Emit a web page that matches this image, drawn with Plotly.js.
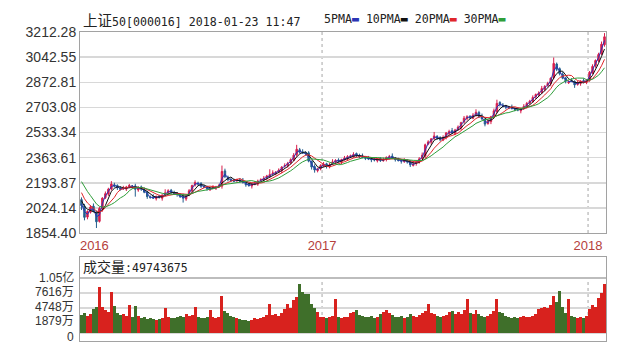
<!DOCTYPE html>
<html>
<head>
<meta charset="utf-8">
<script src="https://cdn.plot.ly/plotly-3.0.1.min.js"></script>
<style>
html,body{margin:0;padding:0;background:#fff;}
#chart{width:640px;height:361px;}
</style>
</head>
<body>
<div id="chart"></div>
<script>
// 上证50 (000016): price bars from early 2016 to 2018-01-23, with volume below.
const barOpen = [2080,2037,1962,1995,2036,1998,1933,2016,2094,2117,2152,2180,2176,2158,2153,2151,2169,2172,2172,2145,
2166,2148,2133,2096,2099,2087,2102,2090,2116,2123,2143,2126,2124,2112,2102,2085,2111,2138,2178,2191,
2189,2167,2167,2147,2156,2158,2168,2171,2274,2232,2217,2208,2211,2213,2208,2191,2184,2172,2187,2185,
2211,2213,2228,2236,2254,2257,2267,2275,2306,2308,2328,2346,2384,2417,2402,2398,2396,2338,2303,2276,
2289,2307,2322,2300,2321,2333,2348,2336,2354,2357,2372,2370,2391,2378,2373,2361,2364,2352,2352,2343,
2358,2343,2353,2361,2374,2359,2352,2343,2338,2343,2338,2311,2324,2332,2357,2375,2456,2468,2493,2506,
2499,2482,2502,2525,2546,2528,2553,2566,2604,2627,2642,2630,2656,2668,2643,2621,2594,2607,2642,2675,
2736,2718,2713,2701,2704,2692,2692,2680,2696,2708,2733,2741,2774,2787,2802,2825,2851,2863,2903,2996,
2964,2927,2902,2870,2883,2878,2858,2866,2884,2872,2887,2935,2986,3018,3063,3126];
const barHigh = [2095,2051,2007,2042,2054,2006,2031,2096,2135,2160,2205,2194,2183,2170,2173,2173,2186,2178,2187,2170,
2175,2162,2140,2108,2117,2108,2113,2116,2150,2150,2152,2140,2131,2124,2120,2113,2151,2181,2210,2201,
2198,2181,2174,2162,2178,2173,2186,2310,2289,2242,2226,2222,2222,2225,2226,2199,2195,2191,2205,2215,
2224,2239,2247,2285,2278,2273,2291,2306,2325,2335,2359,2394,2450,2429,2420,2406,2407,2344,2318,2295,
2319,2334,2329,2327,2353,2353,2359,2356,2375,2380,2384,2400,2398,2390,2391,2369,2375,2358,2367,2362,
2367,2364,2372,2382,2392,2367,2363,2349,2360,2353,2347,2334,2342,2367,2398,2458,2481,2496,2537,2516,
2508,2514,2537,2552,2564,2558,2581,2606,2645,2650,2651,2664,2690,2680,2661,2629,2621,2646,2695,2755,
2745,2732,2720,2713,2722,2700,2703,2696,2725,2740,2754,2784,2797,2812,2848,2853,2876,2906,3040,3006,
2973,2941,2909,2887,2901,2886,2881,2886,2899,2895,2949,2994,3027,3072,3148,3205];
const barLow = [2010,1940,1947,1986,1994,1888,1925,1999,2084,2105,2141,2163,2145,2141,2147,2138,2161,2153,2100,2133,
2139,2123,2085,2086,2084,2074,2087,2073,2106,2111,2119,2113,2100,2091,2060,2072,2103,2121,2168,2173,
2159,2158,2140,2138,2150,2145,2160,2154,2225,2203,2199,2198,2196,2196,2189,2167,2167,2155,2177,2173,
2200,2206,2213,2227,2248,2244,2259,2258,2296,2296,2317,2339,2369,2391,2389,2377,2332,2283,2262,2264,
2278,2300,2290,2291,2315,2320,2332,2319,2344,2345,2361,2363,2365,2361,2359,2347,2347,2333,2338,2331,
2334,2336,2338,2352,2356,2337,2337,2323,2328,2323,2300,2304,2309,2323,2351,2362,2448,2451,2483,2483,
2474,2475,2487,2516,2524,2515,2545,2549,2594,2615,2624,2623,2641,2631,2619,2575,2586,2590,2632,2663,
2709,2703,2690,2691,2689,2677,2677,2663,2686,2696,2722,2734,2759,2778,2796,2812,2843,2846,2893,2948,
2919,2893,2865,2861,2874,2835,2850,2849,2865,2860,2876,2928,2971,3009,3057,3113];
const barClose = [2040,1960,2000,2030,2000,1930,2020,2090,2120,2150,2185,2170,2160,2150,2155,2165,2175,2170,2150,2160,
2150,2130,2100,2095,2090,2100,2095,2110,2125,2140,2130,2120,2115,2100,2090,2105,2140,2175,2195,2185,
2170,2165,2155,2150,2160,2165,2175,2270,2235,2215,2210,2205,2215,2205,2195,2180,2175,2185,2190,2205,
2215,2225,2240,2250,2260,2265,2280,2300,2310,2325,2350,2380,2420,2400,2395,2390,2340,2300,2280,2285,
2310,2320,2305,2315,2335,2345,2340,2350,2360,2370,2375,2385,2380,2370,2365,2360,2355,2350,2348,2352,
2345,2350,2365,2370,2362,2350,2345,2340,2345,2335,2315,2320,2335,2355,2380,2450,2470,2490,2510,2495,
2485,2500,2530,2540,2530,2550,2570,2600,2630,2640,2635,2650,2670,2640,2625,2590,2610,2640,2680,2730,
2720,2710,2705,2700,2695,2690,2685,2690,2710,2730,2745,2770,2790,2800,2830,2845,2865,2900,3000,2960,
2930,2900,2880,2875,2880,2855,2870,2880,2875,2885,2940,2980,3020,3060,3130,3180];
// volume per bar, in 万
const volume = [3400,3800,3300,3600,4600,5000,8800,5000,4300,4000,7900,5200,3900,3500,3700,3300,5400,3000,5200,3200,
2900,3000,2700,2800,2600,2500,2700,2900,4800,3000,2800,2900,3100,3300,3000,3600,3200,3500,4900,3100,
2900,2800,3000,4400,3000,2900,3100,7000,4200,3800,3300,3000,2900,2600,2500,2400,2300,2500,2800,2700,
2900,3100,3400,5500,3500,3700,3300,3900,4600,5500,4700,6300,6800,9300,7800,7500,7400,5600,4800,4000,
3000,3100,2900,3000,3300,6500,3000,2900,3000,3100,3900,4000,4400,3500,3200,3000,3100,3200,2900,3000,
3600,4000,4400,3800,3500,3100,3000,3200,2900,3100,3600,3300,3000,3400,3900,4200,5500,3800,3600,3300,
3100,3200,3500,4000,4200,3600,4000,3700,4300,6500,3900,3600,4400,3700,3300,3000,3200,3700,4100,6500,
4000,3800,3200,3000,2900,3100,2900,3000,3300,3100,3000,3200,3600,4500,4700,5000,4800,5400,7000,6000,
8000,5000,3900,6500,3300,3000,2900,3000,2800,3200,4500,5300,5000,6600,7600,9300];
// closes before the first shown bar, used to seed the moving averages
const priorClose = [2360,2340,2330,2300,2250,2200,2150,2110,2080,2060];

const priceTicks = [1854.40,2024.14,2193.87,2363.61,2533.34,2703.08,2872.81,3042.55,3212.28];
const volumeTicks = [0,1879,4748,7616,10485];
const volumeTickText = ['0','1879万','4748万','7616万','1.05亿'];
const volumeLabelNudge = [-4, 2, 1.5, 1, 1];   // spreads the crowded volume labels evenly
const yearTicks = [4.3, 80.5, 169.5];
const yearText = ['2016','2017','2018'];
const maPeriods = [5,10,20,30];
const maColors = ['#2b35b5','#111111','#e0262a','#2f9e3a'];
const daysPerBar = 2.75;

const upColor = '#d81e4c', downColor = '#245f8e';
const volUp = '#d8221e', volDown = '#3f6f2a';

const n = barClose.length;
const idx = barClose.map((_, i) => i);
const allClose = priorClose.concat(barClose);

function movingAverage(win) {
  const out = [];
  for (let i = 0; i < n; i++) {
    const end = i + priorClose.length, start = end - win + 1;
    if (start < 0) { out.push(null); continue; }
    let s = 0;
    for (let k = start; k <= end; k++) s += allClose[k];
    out.push(s / win);
  }
  return out;
}

const traces = [{
  type: 'candlestick', x: idx, open: barOpen, high: barHigh, low: barLow, close: barClose,
  xaxis: 'x', yaxis: 'y', hoverinfo: 'skip', whiskerwidth: 0,
  increasing: {line: {color: upColor, width: 1}, fillcolor: upColor},
  decreasing: {line: {color: downColor, width: 1}, fillcolor: downColor}
}];
maPeriods.forEach((p, j) => {
  traces.push({
    type: 'scatter', mode: 'lines', x: idx, y: movingAverage(Math.max(2, Math.round(p / daysPerBar))),
    xaxis: 'x', yaxis: 'y', line: {color: maColors[j], width: 1}, hoverinfo: 'skip'
  });
});
traces.push({
  type: 'bar', x: idx, y: volume, xaxis: 'x2', yaxis: 'y2', hoverinfo: 'skip',
  marker: {color: idx.map(i => barClose[i] >= barOpen[i] ? volUp : volDown), line: {width: 0}}
});

const axisLine = '#a2a2a2';
const labelFont = {family: 'Liberation Sans, Noto Sans CJK SC, sans-serif', size: 14, color: '#333'};

const volumeLabels = volumeTicks.map((v, k) => ({
  xref: 'paper', yref: 'y2', x: -0.0076, y: v, xanchor: 'right', yanchor: 'middle',
  yshift: volumeLabelNudge[k], showarrow: false, text: volumeTickText[k],
  font: Object.assign({}, labelFont, {size: 12})
}));

const layout = {
  width: 640, height: 361,
  margin: {l: 80, r: 34, t: 32, b: 20, pad: 0},
  paper_bgcolor: '#fff', plot_bgcolor: '#fff',
  showlegend: false, bargap: 0, boxgap: 0.3,
  xaxis: {
    anchor: 'y', range: [-0.5, n - 0.5], rangeslider: {visible: false},
    tickvals: yearTicks, ticktext: yearText, ticks: '',
    tickfont: {family: 'Liberation Sans, sans-serif', size: 13, color: '#b5403c'},
    showgrid: false, zeroline: false, showline: true, mirror: true, linecolor: axisLine, linewidth: 1
  },
  yaxis: {
    domain: [0.3495, 1], range: [1854.40, 3212.28],
    tickvals: priceTicks, ticktext: priceTicks.map(v => v.toFixed(2)), ticks: '',
    tickfont: labelFont, gridcolor: '#d8d8d8', gridwidth: 1.5,
    showline: true, mirror: true, linecolor: axisLine, zeroline: false
  },
  xaxis2: {
    anchor: 'y2', matches: 'x', showticklabels: false, ticks: '',
    showgrid: false, zeroline: false, showline: true, mirror: true, linecolor: axisLine
  },
  yaxis2: {
    domain: [0, 0.2718], range: [-1525, 14488],
    tickvals: volumeTicks, showticklabels: false, ticks: '',
    gridcolor: '#d8d8d8', gridwidth: 1.5,
    showline: true, mirror: true, linecolor: axisLine, zeroline: false
  },
  shapes: [
    {type: 'line', xref: 'x', yref: 'y domain', x0: yearTicks[1], x1: yearTicks[1], y0: 0, y1: 1,
     line: {color: '#c4c4c4', width: 1.5, dash: 'dot'}, layer: 'below'},
    {type: 'line', xref: 'x', yref: 'y domain', x0: yearTicks[2], x1: yearTicks[2], y0: 0, y1: 1,
     line: {color: '#c4c4c4', width: 1.5, dash: 'dot'}, layer: 'below'},
    {type: 'line', xref: 'x2', yref: 'y2', x0: yearTicks[1], x1: yearTicks[1], y0: 0, y1: volumeTicks[4],
     line: {color: '#c4c4c4', width: 1.5, dash: 'dot'}, layer: 'below'},
    {type: 'line', xref: 'x2', yref: 'y2', x0: yearTicks[2], x1: yearTicks[2], y0: 0, y1: volumeTicks[4],
     line: {color: '#c4c4c4', width: 1.5, dash: 'dot'}, layer: 'below'},
    {type: 'line', xref: 'x2 domain', yref: 'y2', x0: 0, x1: 1, y0: volumeTicks[4], y1: volumeTicks[4],
     line: {color: axisLine, width: 1}}
  ],
  annotations: [
    {xref: 'paper', yref: 'paper', x: 0.002, y: 1.042, xanchor: 'left', yanchor: 'middle', showarrow: false,
     font: {family: 'DejaVu Sans Mono, monospace', size: 11.6, color: '#222'},
     text: '<span style="font-family:Noto Sans CJK SC;font-size:14.5px">上证</span>50[000016] 2018-01-23 11:47'},
    {xref: 'paper', yref: 'paper', x: 0.4592, y: 1.042, xanchor: 'left', yanchor: 'middle', showarrow: false,
     font: {family: 'DejaVu Sans Mono, monospace', size: 11.6, color: '#222'},
     text: maPeriods.map((p, j) => p + 'PMA<span style="color:' + maColors[j] + '">▬</span>').join(' ')},
    {xref: 'paper', yref: 'paper', x: 0.002, y: 0.2427, xanchor: 'left', yanchor: 'middle', showarrow: false,
     font: {family: 'DejaVu Sans Mono, monospace', size: 11.6, color: '#222'},
     text: '<span style="font-family:Noto Sans CJK SC;font-size:14px">成交量</span>:49743675'}
  ].concat(volumeLabels)
};

Plotly.newPlot('chart', traces, layout, {staticPlot: true, displayModeBar: false});
</script>
</body>
</html>
